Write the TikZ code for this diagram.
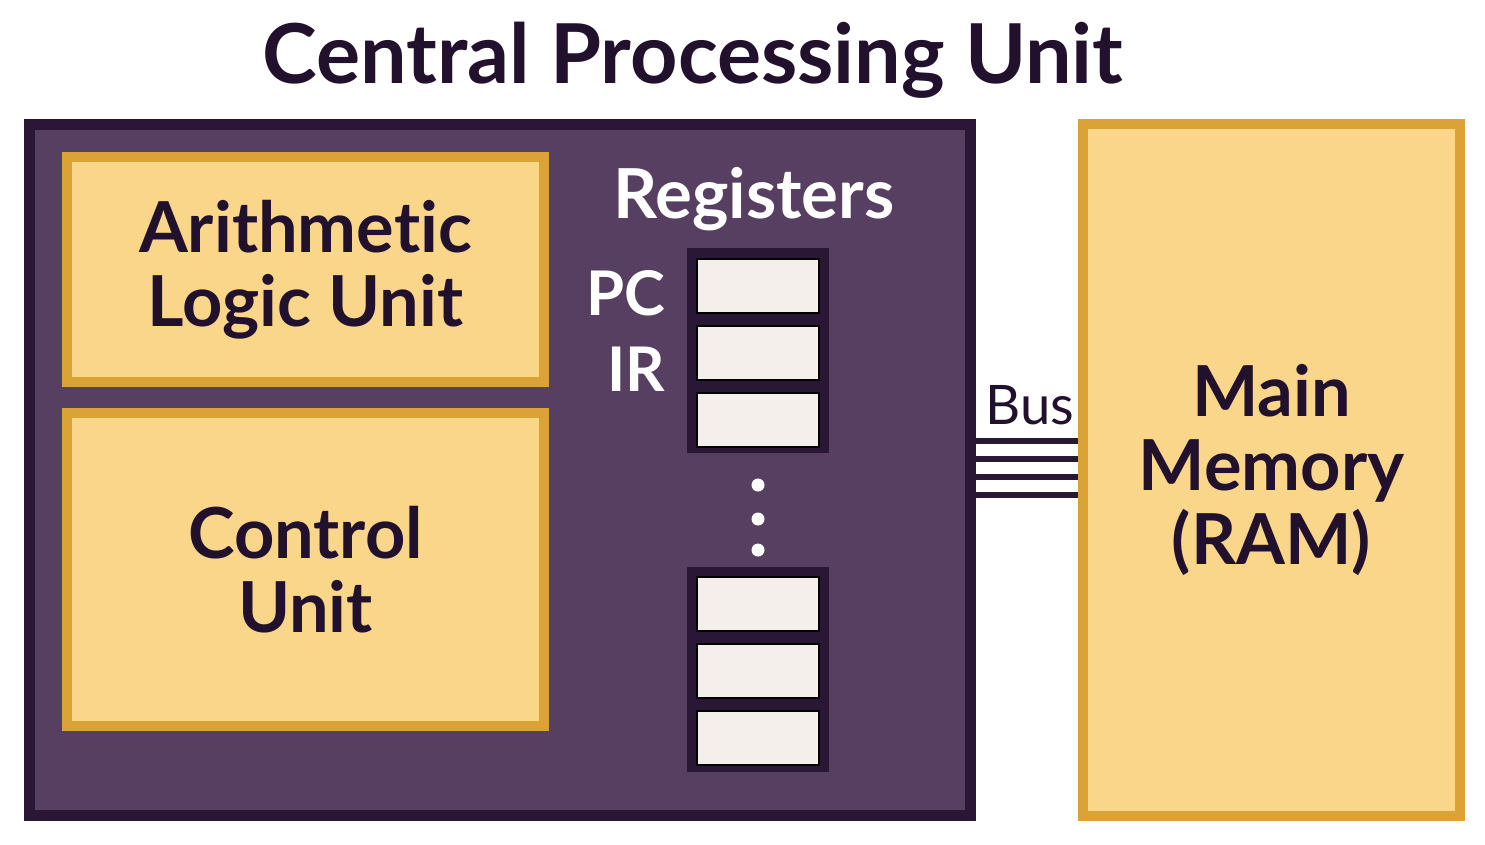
\documentclass[tikz,border=0pt]{standalone}
\usepackage{fontspec}
\setmainfont{Lato}[Ligatures=NoCommon]
\usetikzlibrary{positioning}

\definecolor{cpuedge}{HTML}{2A1735}
\definecolor{cpufill}{HTML}{573F61}
\definecolor{goldedge}{HTML}{DBA235}
\definecolor{goldfill}{HTML}{FAD68A}
\definecolor{cellfill}{HTML}{F4EFEB}
\definecolor{inktext}{HTML}{21112D}

\tikzset{
  cpubox/.style={draw=cpuedge, fill=cpufill, line width=3.3pt, inner sep=0pt},
  unitbox/.style={draw=goldedge, fill=goldfill, line width=2.9pt, inner sep=0pt,
    align=center, text=inktext, font=\fontsize{20}{21}\selectfont\bfseries},
  stackbox/.style={fill=cpuedge, minimum width=1.42cm, minimum height=2.05cm, inner sep=0pt},
  cellbox/.style={fill=cellfill, draw=black, line width=0.5pt, minimum width=1.22cm,
    minimum height=0.54cm, inner sep=0pt},
  reglabel/.style={text=white, inner sep=0pt, font=\fontsize{17.5}{20}\selectfont\bfseries},
  busline/.style={draw=cpuedge, line width=1.7pt},
  regdot/.style={fill=white}
}

\begin{document}
\begin{tikzpicture}[x=0.01cm,y=-0.01cm]
\useasboundingbox (0,0) rectangle (1485,844);

\node[text=inktext, font=\fontsize{23.5}{26}\selectfont\bfseries] (title) at (693,60) {Central Processing Unit};

\node[cpubox, minimum width=9.405cm, minimum height=6.905cm] (cpu) at (500,470) {};
\node[unitbox, minimum width=4.77cm, minimum height=2.25cm] (alu) at (305.5,269.5) {Arithmetic\\Logic Unit};
\node[unitbox, minimum width=4.77cm, minimum height=3.13cm] (cu) at (305.5,569.5) {Control\\Unit};
\node[unitbox, minimum width=3.77cm, minimum height=6.92cm] (mem) at (1271.5,470) {Main\\Memory\\(RAM)};

\node[reglabel, font=\fontsize{19.6}{21}\selectfont\bfseries] (regs) at (754,199) {Registers};

\node[stackbox] (stacka) at (758,350.5) {};
\node[cellbox, below=0.11cm of stacka.north] (pc) {};
\node[cellbox, below=0.11cm of pc] (ir) {};
\node[cellbox, below=0.11cm of ir] (rega) {};

\node[stackbox] (stackb) at (758,669.5) {};
\node[cellbox, below=0.1cm of stackb.north] (regx) {};
\node[cellbox, below=0.11cm of regx] (regy) {};
\node[cellbox, below=0.11cm of regy] (regz) {};

\node[reglabel, anchor=east] (pclabel) at (666,293) {PC};
\node[reglabel, anchor=east] (irlabel) at (666,369) {IR};

\fill[regdot] (758,485) circle[radius=6.5];
\fill[regdot] (758,519) circle[radius=6.5];
\fill[regdot] (758,550) circle[radius=6.5];

\node[text=inktext, font=\fontsize{15.5}{17}\selectfont] (bus) at (1030,405) {Bus};
\foreach \y in {441,459,477,495}
  \draw[busline] (cpu.east |- 0,\y) -- (mem.west |- 0,\y);
\end{tikzpicture}
\end{document}
